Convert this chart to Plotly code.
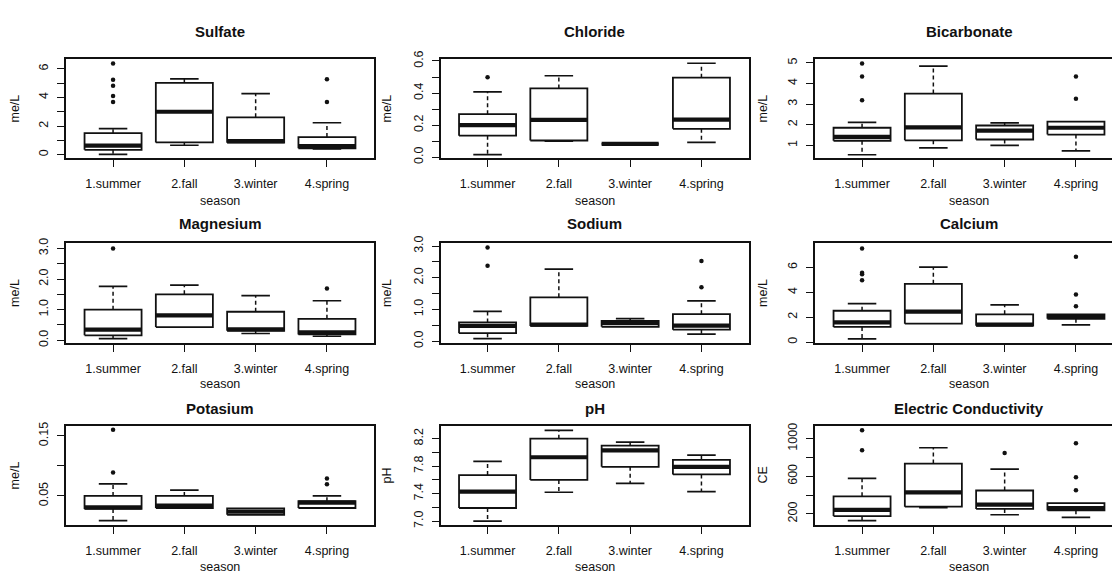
import plotly.graph_objects as go

seasons = ["1.summer", "2.fall", "3.winter", "4.spring"]
positions = [1, 2, 3, 4]

# ---- Sulfate (me/L)
sulfate_low = [0.02, 0.66, 0.84, 0.41]
sulfate_q1 = [0.34, 0.86, 0.84, 0.45]
sulfate_med = [0.64, 3.00, 0.95, 0.60]
sulfate_q3 = [1.50, 5.02, 2.61, 1.23]
sulfate_high = [1.82, 5.30, 4.27, 2.23]
sulfate_out = [[6.36, 5.23, 4.82, 4.10, 3.68], [], [], [5.27, 3.68]]

# ---- Chloride (me/L)
chloride_low = [0.016, 0.100, 0.083, 0.092]
chloride_q1 = [0.134, 0.104, 0.083, 0.177]
chloride_med = [0.200, 0.232, 0.083, 0.234]
chloride_q3 = [0.268, 0.429, 0.083, 0.496]
chloride_high = [0.407, 0.508, 0.083, 0.586]
chloride_out = [[0.498], [], [], []]

# ---- Bicarbonate (me/L)
bicarb_low = [0.54, 0.87, 1.00, 0.73]
bicarb_q1 = [1.22, 1.24, 1.28, 1.52]
bicarb_med = [1.41, 1.87, 1.71, 1.85]
bicarb_q3 = [1.85, 3.51, 1.96, 2.15]
bicarb_high = [2.11, 4.84, 2.09, 2.15]
bicarb_out = [[4.97, 4.34, 3.18], [], [], [4.34, 3.26]]

# ---- Magnesium (me/L)
magnesium_low = [0.05, 0.43, 0.22, 0.13]
magnesium_q1 = [0.16, 0.43, 0.31, 0.19]
magnesium_med = [0.35, 0.81, 0.36, 0.26]
magnesium_q3 = [1.00, 1.50, 0.93, 0.70]
magnesium_high = [1.76, 1.80, 1.46, 1.29]
magnesium_out = [[3.00], [], [], [1.69]]

# ---- Sodium (me/L)
sodium_low = [0.08, 0.48, 0.45, 0.22]
sodium_q1 = [0.25, 0.48, 0.45, 0.36]
sodium_med = [0.48, 0.52, 0.57, 0.49]
sodium_q3 = [0.59, 1.38, 0.64, 0.85]
sodium_high = [0.94, 2.27, 0.71, 1.27]
sodium_out = [[2.95, 2.38], [], [], [2.53, 1.70]]

# ---- Calcium (me/L)
calcium_low = [0.26, 1.48, 1.32, 1.38]
calcium_q1 = [1.22, 1.48, 1.32, 1.87]
calcium_med = [1.58, 2.44, 1.40, 2.08]
calcium_q3 = [2.52, 4.68, 2.23, 2.23]
calcium_high = [3.09, 6.03, 2.99, 2.23]
calcium_out = [[7.53, 5.58, 5.45, 4.96], [], [], [6.86, 3.82, 2.88]]

# ---- Potasium (me/L)
potasium_low = [0.0089, 0.0300, 0.0186, 0.0300]
potasium_q1 = [0.0284, 0.0300, 0.0186, 0.0300]
potasium_med = [0.0310, 0.0338, 0.0240, 0.0390]
potasium_q3 = [0.0500, 0.0500, 0.0295, 0.0414]
potasium_high = [0.0700, 0.0597, 0.0295, 0.0500]
potasium_out = [[0.160, 0.089], [], [], [0.079, 0.0695]]

# ---- pH
ph_low = [7.00, 7.42, 7.55, 7.43]
ph_q1 = [7.19, 7.60, 7.79, 7.68]
ph_med = [7.43, 7.93, 8.03, 7.79]
ph_q3 = [7.67, 8.20, 8.10, 7.89]
ph_high = [7.87, 8.32, 8.15, 7.96]
ph_out = [[], [], [], []]

# ---- Electric Conductivity (CE)
ec_low = [128, 266, 190, 162]
ec_q1 = [176, 276, 252, 238]
ec_med = [241, 428, 297, 262]
ec_q3 = [386, 734, 448, 314]
ec_high = [576, 903, 676, 314]
ec_out = [[1090, 876], [], [848], [952, 590, 452]]

# ---- Axis ticks (values and labels)
sulfate_ticks = [0, 1, 2, 3, 4, 5, 6]
sulfate_labels = ["0", "", "2", "", "4", "", "6"]
chloride_ticks = [0.0, 0.1, 0.2, 0.3, 0.4, 0.5, 0.6]
chloride_labels = ["0.0", "", "0.2", "", "0.4", "", "0.6"]
bicarb_ticks = [1, 2, 3, 4, 5]
bicarb_labels = ["1", "2", "3", "4", "5"]
magnesium_ticks = [0.0, 0.5, 1.0, 1.5, 2.0, 2.5, 3.0]
magnesium_labels = ["0.0", "", "1.0", "", "2.0", "", "3.0"]
sodium_ticks = [0.0, 0.5, 1.0, 1.5, 2.0, 2.5, 3.0]
sodium_labels = ["0.0", "", "1.0", "", "2.0", "", "3.0"]
calcium_ticks = [0, 2, 4, 6]
calcium_labels = ["0", "2", "4", "6"]
potasium_ticks = [0.05, 0.10, 0.15]
potasium_labels = ["0.05", "", "0.15"]
ph_ticks = [7.0, 7.2, 7.4, 7.6, 7.8, 8.0, 8.2]
ph_labels = ["7.0", "", "7.4", "", "7.8", "", "8.2"]
ec_ticks = [200, 400, 600, 800, 1000]
ec_labels = ["200", "", "600", "", "1000"]

panels = [
    ("Sulfate", "me/L", (sulfate_low, sulfate_q1, sulfate_med, sulfate_q3, sulfate_high, sulfate_out), [-0.25, 6.70], sulfate_ticks, sulfate_labels),
    ("Chloride", "me/L", (chloride_low, chloride_q1, chloride_med, chloride_q3, chloride_high, chloride_out), [-0.007, 0.614], chloride_ticks, chloride_labels),
    ("Bicarbonate", "me/L", (bicarb_low, bicarb_q1, bicarb_med, bicarb_q3, bicarb_high, bicarb_out), [0.37, 5.20], bicarb_ticks, bicarb_labels),
    ("Magnesium", "me/L", (magnesium_low, magnesium_q1, magnesium_med, magnesium_q3, magnesium_high, magnesium_out), [-0.08, 3.17], magnesium_ticks, magnesium_labels),
    ("Sodium", "me/L", (sodium_low, sodium_q1, sodium_med, sodium_q3, sodium_high, sodium_out), [-0.05, 3.09], sodium_ticks, sodium_labels),
    ("Calcium", "me/L", (calcium_low, calcium_q1, calcium_med, calcium_q3, calcium_high, calcium_out), [-0.05, 7.95], calcium_ticks, calcium_labels),
    ("Potasium", "me/L", (potasium_low, potasium_q1, potasium_med, potasium_q3, potasium_high, potasium_out), [0.0014, 0.167], potasium_ticks, potasium_labels),
    ("pH", "pH", (ph_low, ph_q1, ph_med, ph_q3, ph_high, ph_out), [6.94, 8.39], ph_ticks, ph_labels),
    ("Electric Conductivity", "CE", (ec_low, ec_q1, ec_med, ec_q3, ec_high, ec_out), [79, 1138], ec_ticks, ec_labels),
]

# ---- Layout geometry (pixels)
W, H = 1112, 579
col_left = [66, 440.5, 815]
col_width = 308
row_top = [52, 241, 428]
row_bottom = [154, 343, 530]
title_y = [24, 220.5, 410]
season_y = [198, 385, 573]
ylab_x = [15, 387, 763]
XR = [0.34, 4.66]
HALF = 0.4
STAPLE = 0.2

FONT = "Liberation Sans, Arial, sans-serif"
INK = "#111111"

fig = go.Figure()
annotations = []

for k, (title, ylab, stats, yrange, tv, tt) in enumerate(panels):
    r, c = divmod(k, 3)
    low, q1, med, q3, high, outs = stats
    xa = "x" if k == 0 else f"x{k+1}"
    ya = "y" if k == 0 else f"y{k+1}"

    # box bodies
    bx, by = [], []
    for p, a, b in zip(positions, q1, q3):
        bx += [p - HALF, p + HALF, p + HALF, p - HALF, p - HALF, None]
        by += [a, a, b, b, a, None]
    fig.add_trace(go.Scatter(x=bx, y=by, mode="lines", fill="toself", fillcolor="white",
                             line=dict(color=INK, width=1.8), xaxis=xa, yaxis=ya, hoverinfo="skip"))
    # dashed whiskers
    wx, wy = [], []
    for p, lo, a, b, hi in zip(positions, low, q1, q3, high):
        if hi > b:
            wx += [p, p, None]
            wy += [b, hi, None]
        if lo < a:
            wx += [p, p, None]
            wy += [a, lo, None]
    fig.add_trace(go.Scatter(x=wx, y=wy, mode="lines", line=dict(color=INK, width=1.5, dash="4px,3px"),
                             xaxis=xa, yaxis=ya, hoverinfo="skip"))
    # staples
    sx, sy = [], []
    for p, lo, a, b, hi in zip(positions, low, q1, q3, high):
        if hi > b:
            sx += [p - STAPLE, p + STAPLE, None]
            sy += [hi, hi, None]
        if lo < a:
            sx += [p - STAPLE, p + STAPLE, None]
            sy += [lo, lo, None]
    fig.add_trace(go.Scatter(x=sx, y=sy, mode="lines", line=dict(color=INK, width=1.7),
                             xaxis=xa, yaxis=ya, hoverinfo="skip"))
    # medians
    mx, my = [], []
    for p, m in zip(positions, med):
        mx += [p - HALF, p + HALF, None]
        my += [m, m, None]
    fig.add_trace(go.Scatter(x=mx, y=my, mode="lines", line=dict(color=INK, width=4.2),
                             xaxis=xa, yaxis=ya, hoverinfo="skip"))
    # outliers
    ox, oy = [], []
    for p, o in zip(positions, outs):
        ox += [p] * len(o)
        oy += o
    if ox:
        fig.add_trace(go.Scatter(x=ox, y=oy, mode="markers", marker=dict(color=INK, size=4.5),
                                 xaxis=xa, yaxis=ya, hoverinfo="skip"))

    x0 = col_left[c]
    x1 = min(x0 + col_width, W)
    xr = [XR[0], XR[0] + (XR[1] - XR[0]) * (x1 - x0) / col_width]
    dom_x = [x0 / W, x1 / W]
    dom_y = [1 - row_bottom[r] / H, 1 - row_top[r] / H]
    key = "" if k == 0 else str(k + 1)
    fig.layout["xaxis" + key] = dict(
        domain=dom_x, range=xr, anchor=ya, tickvals=positions, ticktext=seasons,
        ticks="outside", ticklen=7, tickwidth=1.4, tickcolor=INK,
        showline=True, linecolor=INK, linewidth=1.8, mirror=True,
        showgrid=False, zeroline=False, ticklabelstandoff=6,
        tickfont=dict(size=12.5, color=INK, family=FONT), fixedrange=True,
    )
    fig.layout["yaxis" + key] = dict(
        domain=dom_y, range=yrange, anchor=xa, tickvals=tv, ticktext=tt, tickangle=-90,
        ticks="outside", ticklen=7, tickwidth=1.4, tickcolor=INK,
        showline=True, linecolor=INK, linewidth=1.8, mirror=(c < 2),
        showgrid=False, zeroline=False, ticklabelstandoff=4,
        tickfont=dict(size=12.5, color=INK, family=FONT), fixedrange=True,
    )
    cx = (x0 + col_width / 2) / W
    annotations.append(dict(text=f"<b>{title}</b>", x=cx, y=1 - title_y[r] / H, xref="paper", yref="paper",
                            showarrow=False, xanchor="center", yanchor="middle",
                            font=dict(size=15, color=INK, family=FONT)))
    annotations.append(dict(text="season", x=cx, y=1 - season_y[r] / H, xref="paper", yref="paper",
                            showarrow=False, xanchor="center", yanchor="middle",
                            font=dict(size=12.5, color=INK, family=FONT)))
    annotations.append(dict(text=ylab, x=ylab_x[c] / W, y=1 - (row_top[r] + row_bottom[r]) / 2 / H,
                            xref="paper", yref="paper", textangle=-90,
                            showarrow=False, xanchor="center", yanchor="middle",
                            font=dict(size=12.5, color=INK, family=FONT)))

fig.update_layout(
    width=W, height=H, margin=dict(l=0, r=0, t=0, b=0), autosize=False,
    paper_bgcolor="white", plot_bgcolor="white", showlegend=False,
    annotations=annotations, font=dict(family=FONT, color=INK),
)

fig.write_html("out.html")
